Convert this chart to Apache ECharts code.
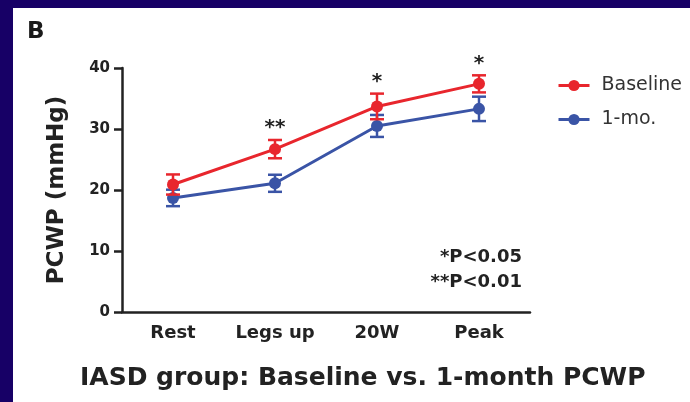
<!DOCTYPE html>
<html><head><meta charset="utf-8">
<script src="https://cdn.jsdelivr.net/npm/echarts@6/dist/echarts.min.js"></script>
<style>html,body{margin:0;padding:0;background:#fff}#c{width:690px;height:402px}</style>
</head><body><div id="c"></div>
<script>
const categories = ['Rest', 'Legs up', '20W', 'Peak'];
const baselineMean = [20.9, 26.7, 33.7, 37.4];
const baselineErr = [1.65, 1.5, 2.1, 1.4];
const monthMean = [18.7, 21.1, 30.5, 33.3];
const monthErr = [1.35, 1.4, 1.8, 2.0];
const sigMarks = ['', '**', '*', '*'];
const seriesNames = ['Baseline', '1-mo.'];
const pNotes = ['*P<0.05', '**P<0.01'];
const chartTitle = 'IASD group: Baseline vs. 1-month PCWP';
const panelLabel = 'B';
const yAxisName = 'PCWP (mmHg)';

const RED = '#e8262d', BLUE = '#3a54a6', INK = '#222';
const FONT = 'DejaVu Sans';

function errRender(color) {
  return function (params, api) {
    const i = api.value(0), m = api.value(1), e = api.value(2);
    const t = api.coord([i, m + e]), b = api.coord([i, m - e]);
    const hw = 7, st = { stroke: color, lineWidth: 2.5 };
    return { type: 'group', children: [
      { type: 'line', shape: { x1: t[0], y1: t[1], x2: b[0], y2: b[1] }, style: st },
      { type: 'line', shape: { x1: t[0] - hw, y1: t[1], x2: t[0] + hw, y2: t[1] }, style: st },
      { type: 'line', shape: { x1: b[0] - hw, y1: b[1], x2: b[0] + hw, y2: b[1] }, style: st }
    ]};
  };
}
function starRender(params, api) {
  const i = api.value(0), top = api.value(1) + api.value(2);
  const p = api.coord([i, top]);
  return { type: 'text', x: p[0], y: p[1] - 12, style: {
    text: sigMarks[params.dataIndex], textAlign: 'center', textVerticalAlign: 'middle',
    font: 'bold 20px "' + FONT + '"', fill: INK } };
}
const bData = categories.map((c, i) => [i, baselineMean[i], baselineErr[i]]);
const mData = categories.map((c, i) => [i, monthMean[i], monthErr[i]]);

const chart = echarts.init(document.getElementById('c'), null, { renderer: 'canvas' });
chart.setOption({
  backgroundColor: '#fff',
  animation: false,
  title: { text: chartTitle, left: 80, top: 366, padding: 0,
    textStyle: { fontFamily: FONT, fontWeight: 'bold', fontSize: 25, color: INK } },
  legend: { data: seriesNames, orient: 'vertical', left: 552, top: 71, itemWidth: 31, itemHeight: 14, itemGap: 15,
    lineStyle: { width: 3 },
    textStyle: { fontFamily: FONT, fontSize: 19, color: '#333', padding: [0, 0, 0, 7] } },
  grid: { left: 122, right: 160, top: 68, bottom: 90 },
  xAxis: { type: 'category', data: categories, boundaryGap: true,
    axisLine: { lineStyle: { color: INK, width: 2.5 } },
    axisTick: { alignWithLabel: true, length: 8, lineStyle: { color: INK, width: 2.5 } },
    axisLabel: { interval: 0, margin: 12, fontFamily: FONT, fontWeight: 'bold', fontSize: 18, color: INK } },
  yAxis: { type: 'value', min: 0, max: 40, interval: 10,
    name: yAxisName, nameLocation: 'middle', nameGap: 53,
    nameTextStyle: { fontFamily: FONT, fontWeight: 'bold', fontSize: 23, color: INK },
    splitLine: { show: false },
    axisLine: { show: true, lineStyle: { color: INK, width: 2.5 } },
    axisTick: { show: true, length: 8, lineStyle: { color: INK, width: 2.5 } },
    axisLabel: { margin: 12, fontFamily: FONT, fontWeight: 'bold', fontSize: 15, color: INK } },
  series: [
    { name: '1-mo.', type: 'line', data: monthMean, z: 2, symbol: 'circle', symbolSize: 12,
      itemStyle: { color: BLUE }, lineStyle: { color: BLUE, width: 3 } },
    { name: 'err-1mo', type: 'custom', data: mData, z: 2, renderItem: errRender(BLUE) },
    { name: 'Baseline', type: 'line', data: baselineMean, z: 4, symbol: 'circle', symbolSize: 12,
      itemStyle: { color: RED }, lineStyle: { color: RED, width: 3 } },
    { name: 'err-base', type: 'custom', data: bData, z: 4, renderItem: errRender(RED) },
    { name: 'sig', type: 'custom', data: bData, z: 5, renderItem: starRender }
  ],
  graphic: [
    { type: 'rect', shape: { x: 0, y: 0, width: 690, height: 8 }, style: { fill: '#170066' } },
    { type: 'rect', shape: { x: 0, y: 0, width: 13, height: 402 }, style: { fill: '#170066' } },
    { type: 'text', x: 27, y: 32, style: { text: panelLabel, textAlign: 'left', textVerticalAlign: 'middle',
      font: 'bold 23px "' + FONT + '"', fill: '#1a1a1a' } },
    { type: 'text', x: 522, y: 257, style: { text: pNotes[0], textAlign: 'right', textVerticalAlign: 'middle',
      font: 'bold 18px "' + FONT + '"', fill: INK } },
    { type: 'text', x: 522, y: 282, style: { text: pNotes[1], textAlign: 'right', textVerticalAlign: 'middle',
      font: 'bold 18px "' + FONT + '"', fill: INK } }
  ]
});
</script></body></html>
